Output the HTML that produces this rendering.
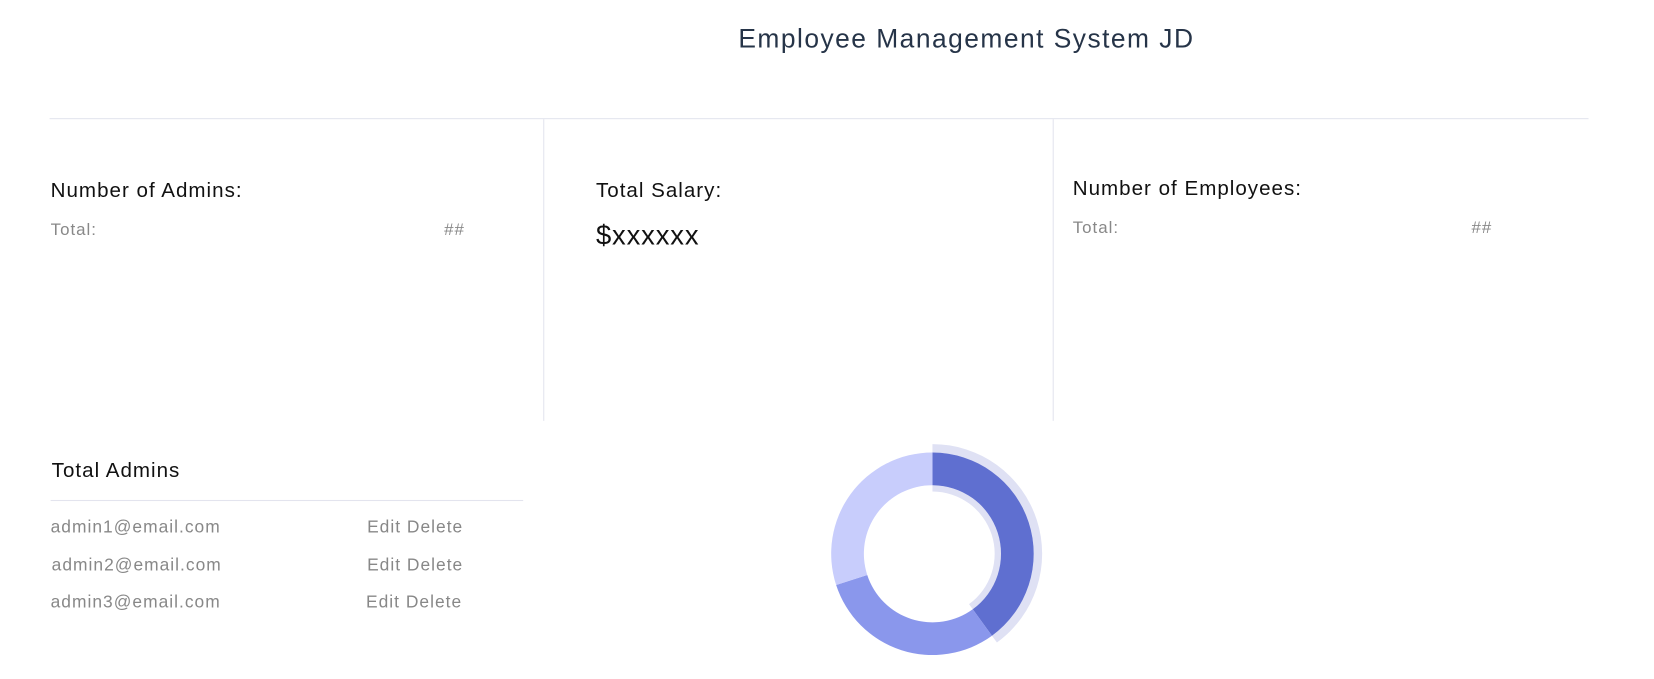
<!DOCTYPE html>
<html><head><meta charset="utf-8"><style>
body{margin:0;width:1654px;height:679px;background:#fff;font-family:"Liberation Sans",sans-serif;overflow:hidden}
#wrap{position:absolute;left:0;top:0;width:1568px;height:644px;transform:scale(1.0548);transform-origin:0 0;letter-spacing:0.95px}
.a{position:absolute;white-space:nowrap}
</style></head><body>
<div id="wrap">
<div class="a" style="left:700px;top:23px;font-size:25px;color:#263448;letter-spacing:1.4px">Employee Management System JD</div>
<div class="a" style="left:47px;top:112px;width:1459px;height:1px;background:#e3e4ee"></div>
<div class="a" style="left:515px;top:113px;width:1px;height:286px;background:#e3e4ee"></div>
<div class="a" style="left:998px;top:113px;width:1px;height:286px;background:#e3e4ee"></div>
<div class="a" style="left:48px;top:170px;font-size:19.5px;color:#111">Number of Admins:</div>
<div class="a" style="left:48px;top:210px;font-size:16px;color:#888">Total:</div>
<div class="a" style="left:421px;top:210px;font-size:16px;color:#888">##</div>
<div class="a" style="left:565px;top:170px;font-size:19.5px;color:#111">Total Salary:</div>
<div class="a" style="left:565px;top:208px;font-size:26px;color:#111;letter-spacing:0.8px">$xxxxxx</div>
<div class="a" style="left:1017px;top:168px;font-size:19.5px;color:#111">Number of Employees:</div>
<div class="a" style="left:1017px;top:208px;font-size:16px;color:#888">Total:</div>
<div class="a" style="left:1395px;top:208px;font-size:16px;color:#888">##</div>
<div class="a" style="left:49px;top:435px;font-size:19.5px;color:#111">Total Admins</div>
<div class="a" style="left:48px;top:474px;width:448px;height:1px;background:#e3e4ee"></div>
<div class="a" style="left:48px;top:491px;font-size:16.5px;color:#888">admin1@email.com</div>
<div class="a" style="left:348px;top:491px;font-size:16.5px;color:#888">Edit Delete</div>
<div class="a" style="left:49px;top:527px;font-size:16.5px;color:#888">admin2@email.com</div>
<div class="a" style="left:348px;top:527px;font-size:16.5px;color:#888">Edit Delete</div>
<div class="a" style="left:48px;top:562px;font-size:16.5px;color:#888">admin3@email.com</div>
<div class="a" style="left:347px;top:562px;font-size:16.5px;color:#888">Edit Delete</div>
<svg class="a" id="donut" style="left:0;top:0" width="1568" height="644"></svg>
</div>
<script>
const categories=["Admins","Employees","Other"];
const values=[40,30,30];
const colors=["#5f6fd0","#8a97ec","#c8cdfc"];
const cx=884,cy=525,ro=96,ri=65;
const svg=document.getElementById('donut');
const NS='http://www.w3.org/2000/svg';
function pt(r,a){return [cx+r*Math.sin(a),cy-r*Math.cos(a)];}
function arc(r1,r2,a0,a1){const l=(a1-a0)>Math.PI?1:0;const p=pt(r2,a0),q=pt(r2,a1),s=pt(r1,a1),t=pt(r1,a0);
return `M${p}A${r2},${r2} 0 ${l} 1 ${q}L${s}A${r1},${r1} 0 ${l} 0 ${t}Z`;}
const total=values.reduce((a,b)=>a+b,0);
let a=0;
values.forEach((v,i)=>{const a1=a+v/total*2*Math.PI;
if(i===0){const h1=document.createElementNS(NS,'path');h1.setAttribute('d',arc(ro,ro+8,a,a1));h1.setAttribute('fill','#dfe1f4');


svg.appendChild(h1);
const h2=document.createElementNS(NS,'path');h2.setAttribute('d',arc(ri-6,ri,a,a1));h2.setAttribute('fill','#dfe1f4');


svg.appendChild(h2);}
const p=document.createElementNS(NS,'path');p.setAttribute('d',arc(ri,ro,a,a1));p.setAttribute('fill',colors[i]);


svg.appendChild(p);a=a1;});
</script>
</body></html>
